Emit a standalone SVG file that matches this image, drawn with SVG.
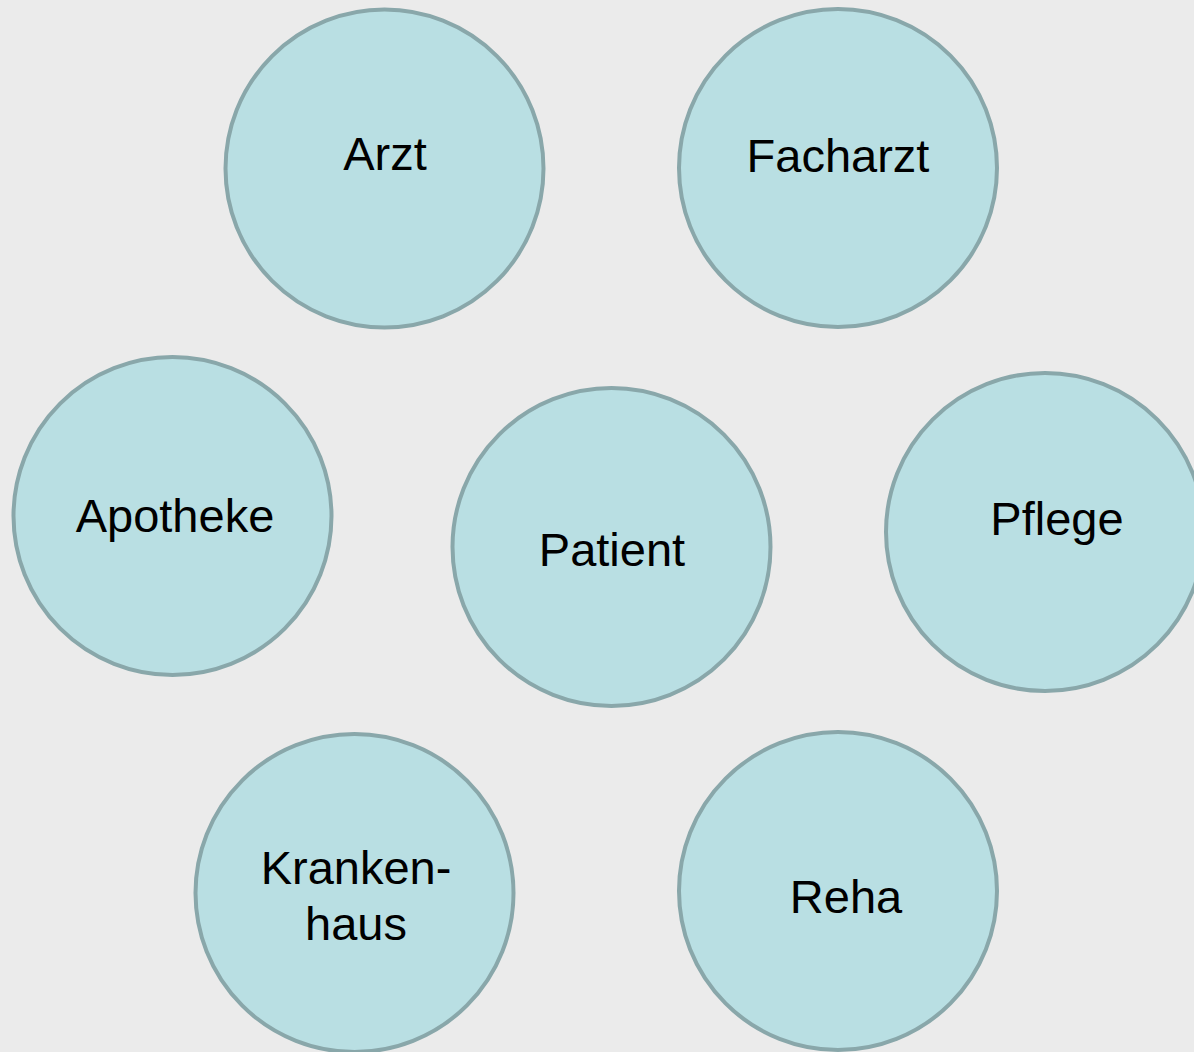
<svg xmlns="http://www.w3.org/2000/svg" width="1194" height="1052" viewBox="0 0 1194 1052">
<style>
.n{fill:#b9dfe3;stroke:#89a7aa;stroke-width:4}
.t{font-family:"Liberation Sans",Arial,sans-serif;font-size:47px;fill:#000;text-anchor:middle}
</style>
<rect width="1194" height="1052" fill="#ebebeb"/>
<g id="connectors"></g>
<g id="arzt"><circle class="n" cx="384.5" cy="168.5" r="159"/><text class="t" x="385" y="170">Arzt</text></g>
<g id="facharzt"><circle class="n" cx="838" cy="168" r="159"/><text class="t" x="838" y="172">Facharzt</text></g>
<g id="apotheke"><circle class="n" cx="172.5" cy="516" r="159"/><text class="t" x="175" y="532">Apotheke</text></g>
<g id="patient"><circle class="n" cx="611.5" cy="547" r="159"/><text class="t" x="612" y="566">Patient</text></g>
<g id="pflege"><circle class="n" cx="1045" cy="532" r="159"/><text class="t" x="1057" y="535">Pflege</text></g>
<g id="krankenhaus"><circle class="n" cx="354.5" cy="893" r="159"/><text class="t" x="356" y="884">Kranken-</text><text class="t" x="356" y="940">haus</text></g>
<g id="reha"><circle class="n" cx="838" cy="891" r="159"/><text class="t" x="846" y="913">Reha</text></g>
</svg>
